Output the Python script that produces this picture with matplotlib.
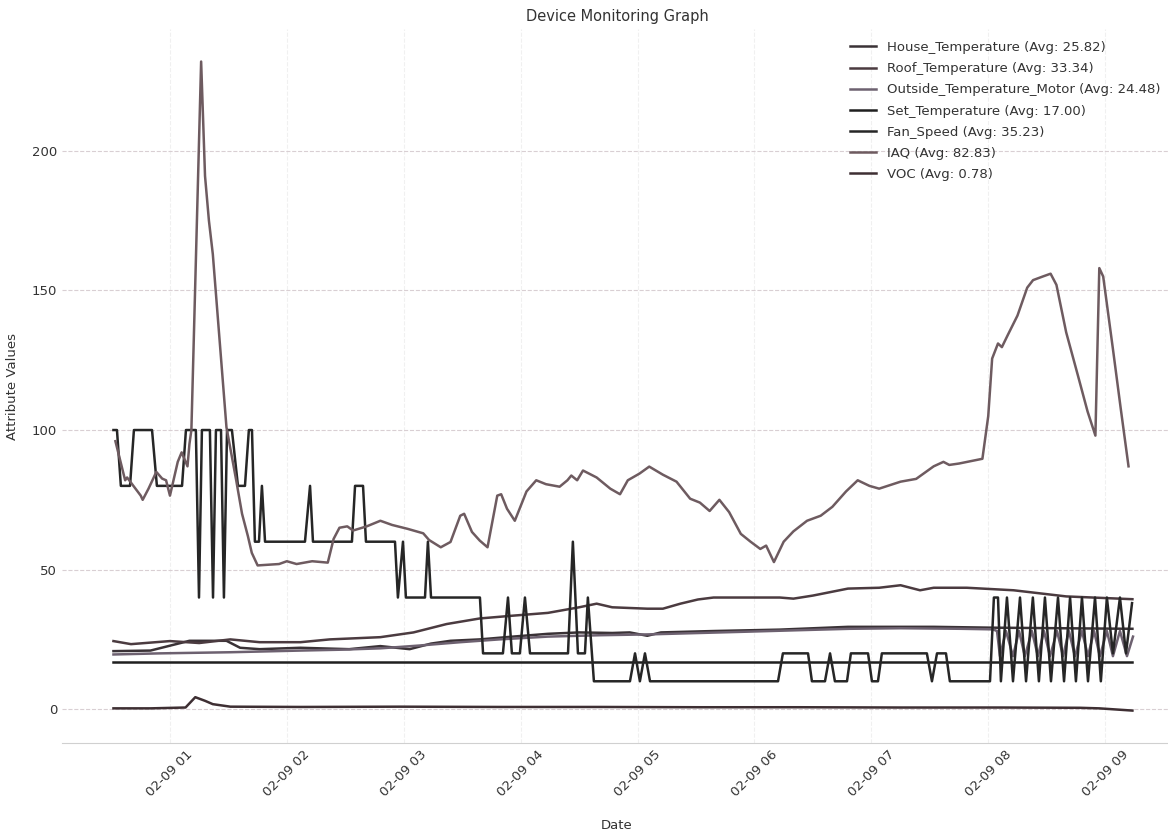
import pandas as pd
import matplotlib
matplotlib.use('Agg')
import matplotlib.pyplot as plt
import matplotlib.dates as mdates

# Day of the readings, times are minutes after midnight
day = pd.Timestamp('2024-02-09')

house_min = [31, 50, 70, 89, 96, 106, 127, 152, 168, 183, 194, 204, 219, 236, 254,
             270, 287, 296, 305, 312, 339, 373, 408, 424, 452, 482, 517, 554]
house_val = [20.8, 21, 24.5, 24.5, 22, 21.5, 22, 21.5, 22.6, 21.5, 23.5, 24.5, 25, 26, 27,
             27.5, 27.3, 27.5, 26.3, 27.5, 28, 28.5, 29.5, 29.5, 29.5, 29.2, 29, 28.8]

roof_min = [31, 40, 60, 75, 91, 106, 127, 142, 168, 185, 202, 219, 236, 254, 270, 279, 287, 305,
            313, 322, 331, 339, 356, 373, 380, 390, 408, 424, 435, 445, 452, 469, 493, 520, 554]
roof_val = [24.4, 23.3, 24.4, 23.7, 25, 24, 24, 25, 25.8, 27.5, 30.5, 32.5, 33.5, 34.5, 36.5, 37.8, 36.5, 36,
            36, 37.8, 39.3, 40, 40, 40, 39.6, 40.7, 43.2, 43.5, 44.4, 42.6, 43.5, 43.5, 42.6, 40.4, 39.4]

outside_min = [31, 55, 91, 127, 147, 168, 188, 209, 229, 254, 281, 306, 332, 358, 383, 409, 435, 466,
               482.4, 484.5, 486, 489.1, 492.7, 495.8, 498.8, 502.4, 505.5, 508.6, 511.7, 515.3, 518.4,
               521.4, 524.5, 528.1, 531.2, 534.3, 537.3, 540.9, 544, 547.6, 551.2, 554.3]
outside_val = [19.6, 20, 20.4, 21, 21.3, 21.8, 22.8, 24, 25, 26, 26.5, 26.8, 27.3, 27.8, 28.3, 28.8, 29, 28.8,
               28.6, 28, 19, 28, 19, 28, 19, 28, 19, 28, 19, 28, 19,
               28, 19, 28, 19, 28, 19, 28, 19, 28, 19, 26]

set_min = [31, 554]
set_val = [17, 17]

fan_min = [31, 32.8, 34.8, 39.5, 41.5, 50.8, 53.3, 66.2, 68.2, 73.3, 74.9, 76.4, 80.5, 82.1, 83.6,
           86.2, 87.7, 89.3, 91.8, 94.9, 98.5, 100.5, 102.1, 103.6, 105.7, 107.2, 108.8,
           129.3, 131.9, 133.4, 153.4, 155.0, 159.1, 160.6, 175.5, 177.0, 179.6, 181.1,
           190.9, 192.4, 194.0, 219.1, 220.7, 230.9, 233.5, 235.5, 239.6, 242.2, 244.8,
           264.3, 266.8, 269.4, 273.0, 274.5, 277.6, 296.1, 298.7, 301.2, 303.8, 306.4,
           372.1, 374.6, 387.5, 389.5, 396.2, 398.8, 401.3, 407.5, 409.5, 418.3, 420.3,
           423.4, 425.4, 448.5, 451.1, 453.7, 458.3, 460.3, 480.9,
           482.9, 485.0, 486.5, 489.6, 492.7, 496.3, 499.4, 502.9, 506.0, 509.1, 512.2,
           515.8, 518.9, 522.0, 525.0, 528.1, 531.2, 534.8, 537.8, 540.9, 544.0, 547.6,
           550.7, 553.8]
fan_val = [100, 100, 80, 80, 100, 100, 80, 80, 100, 100, 40, 100, 100, 40, 100,
           100, 40, 100, 100, 80, 80, 100, 100, 60, 60, 80, 60,
           60, 80, 60, 60, 80, 80, 60, 60, 40, 60, 40,
           40, 60, 40, 40, 20, 20, 40, 20, 20, 40, 20,
           20, 60, 20, 20, 40, 10, 10, 20, 10, 20, 10,
           10, 20, 20, 10, 10, 20, 10, 10, 20, 20, 10,
           10, 20, 20, 10, 20, 20, 10, 10,
           40, 40, 10, 40, 10, 40, 10, 40, 10, 40, 10,
           40, 10, 40, 10, 40, 10, 40, 10, 40, 20, 40,
           20, 38]

iaq_min = [32, 37, 38, 45, 46, 49, 53, 56, 58, 60, 64, 66, 69, 70, 71, 76, 78, 80, 82, 89,
           94, 97, 100, 102, 105, 116, 120, 125, 133, 141, 144, 147, 151, 154, 161, 168, 174, 182, 190, 193,
           199, 204, 209, 211, 215, 219, 223, 228, 230, 233, 237, 243, 248, 253, 260, 264, 266, 269, 272, 279,
           286, 291, 295, 301, 306, 313, 320, 327, 332, 337, 342, 347, 353, 358, 363, 366, 370, 375, 380, 387,
           394, 400, 407, 413, 419, 424, 435, 443, 452, 457, 460, 465, 477, 480, 482, 485, 487, 490, 495, 500,
           503, 508, 512, 515, 520, 526, 531, 535, 537, 539, 544, 548, 552]
iaq_val = [96, 82, 83, 76.5, 75, 79, 85, 82.6, 82, 76.5, 88.6, 92, 87, 95, 100, 232, 191, 175, 163, 101,
           82, 70, 62, 56, 51.5, 52, 53, 52, 53, 52.5, 61, 65, 65.5, 64, 65.5, 67.5, 66, 64.6, 63, 60.6,
           58, 59.9, 69.3, 70, 63.5, 60.4, 58, 76.5, 77, 71.8, 67.5, 78, 82, 80.6, 79.7, 82, 83.7, 82, 85.5, 83,
           79, 77, 82, 84.4, 86.9, 84, 81.5, 75.4, 74, 71, 75, 70.6, 62.8, 60, 57.4, 58.6, 52.7, 60, 63.7, 67.5,
           69.3, 72.5, 78, 82, 80, 79, 81.5, 82.5, 87, 88.6, 87.5, 88, 89.7, 105, 125.6, 131, 129.7, 134, 141, 151,
           153.7, 155, 156, 152, 135, 119.6, 106.6, 98, 158, 155, 129, 107.7, 87]

voc_min = [31, 50, 68, 73, 78, 82, 91, 127, 178, 229, 281, 332, 383, 435, 486, 527, 537, 554]
voc_val = [0.3, 0.3, 0.6, 4.3, 3.0, 1.8, 0.9, 0.8, 0.9, 0.8, 0.8, 0.7, 0.7, 0.6, 0.6, 0.5, 0.3, -0.5]

names = ['House_Temperature', 'Roof_Temperature', 'Outside_Temperature_Motor',
         'Set_Temperature', 'Fan_Speed', 'IAQ', 'VOC']
averages = [25.82, 33.34, 24.48, 17.00, 35.23, 82.83, 0.78]


def to_time(mins):
    return day + pd.to_timedelta(mins, unit='m')


series = [(house_min, house_val, '#3a3236'),
          (roof_min, roof_val, '#4b3b40'),
          (outside_min, outside_val, '#6d6170'),
          (set_min, set_val, '#1f1f1f'),
          (fan_min, fan_val, '#262626'),
          (iaq_min, iaq_val, '#6e5b60'),
          (voc_min, voc_val, '#3e2f33')]

fig = plt.figure(figsize=(11.68, 8.36), dpi=100)
ax = fig.add_axes([0.0531, 0.1112, 0.9503, 0.854])

for name, avg, (t, v, c) in zip(names, averages, series):
    ax.plot(to_time(t), v, color=c, linewidth=1.8, label=f'{name} (Avg: {avg:.2f})')

ax.set_xlim(to_time(4.6), to_time(574.3))
ax.xaxis.set_major_locator(mdates.HourLocator())
ax.xaxis.set_major_formatter(mdates.DateFormatter('%m-%d %H'))
plt.xticks(rotation=45)

ax.grid(True, axis='y', color='#d9cfd3', linestyle='--', linewidth=0.8)
ax.grid(True, axis='x', color='#f0f0f0', linestyle='--', linewidth=0.8)
ax.set_axisbelow(True)
for s in ['top', 'right', 'left']:
    ax.spines[s].set_visible(False)
ax.spines['bottom'].set_color('#d0d0d0')
ax.tick_params(length=0, labelsize=9.5, colors='#333333')

ax.set_title('Device Monitoring Graph', fontsize=10.5, color='#333333')
ax.set_xlabel('Date', fontsize=9.5, color='#333333', labelpad=14)
ax.set_ylabel('Attribute Values', fontsize=9.5, color='#333333')
ax.yaxis.set_label_coords(-0.039, 0.5)
ax.legend(loc='upper right', fontsize=9.5, frameon=False, labelcolor='#333333',
          labelspacing=0.62)

fig.savefig('out.png', dpi=100)
